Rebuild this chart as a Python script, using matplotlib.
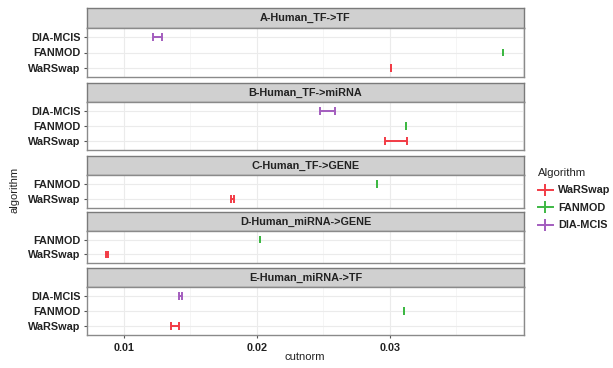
import matplotlib
matplotlib.use("Agg")
import matplotlib.pyplot as plt
from matplotlib.lines import Line2D
from matplotlib.ticker import MultipleLocator

plt.rcParams["font.family"] = ["Liberation Sans", "DejaVu Sans"]

# ---- data ----
panel_titles = ["A-Human_TF->TF", "B-Human_TF->miRNA", "C-Human_TF->GENE",
                "D-Human_miRNA->GENE", "E-Human_miRNA->TF"]

a_algs = ["DIA-MCIS", "FANMOD", "WaRSwap"]
a_low = [0.01215, 0.03852, 0.03010]
a_high = [0.01290, 0.03852, 0.03012]

b_algs = ["DIA-MCIS", "FANMOD", "WaRSwap"]
b_low = [0.02474, 0.03123, 0.02965]
b_high = [0.02589, 0.03124, 0.03130]

c_algs = ["FANMOD", "WaRSwap"]
c_low = [0.02905, 0.01802]
c_high = [0.02906, 0.01828]

d_algs = ["FANMOD", "WaRSwap"]
d_low = [0.02023, 0.00866]
d_high = [0.02024, 0.00882]

e_algs = ["DIA-MCIS", "FANMOD", "WaRSwap"]
e_low = [0.01411, 0.03108, 0.01353]
e_high = [0.01438, 0.03109, 0.01416]

legend_order = ["WaRSwap", "FANMOD", "DIA-MCIS"]
colors = {"WaRSwap": "#F23B45", "FANMOD": "#3DB843", "DIA-MCIS": "#A35DBE"}

panels = [
    (panel_titles[0], a_algs, a_low, a_high),
    (panel_titles[1], b_algs, b_low, b_high),
    (panel_titles[2], c_algs, c_low, c_high),
    (panel_titles[3], d_algs, d_low, d_high),
    (panel_titles[4], e_algs, e_low, e_high),
]

# ---- layout (pixels) ----
W, H = 613, 368
fig = plt.figure(figsize=(W / 100, H / 100), dpi=100)
fig.patch.set_facecolor("white")

x0, x1 = 87, 524
layout = [(8, 28, 77), (83, 102, 150), (156, 175, 208), (212, 231, 263), (268, 287, 335)]
xlim = (0.00722, 0.0401)
txt = "#222222"
fs = 7.8

def fx(px):
    return px / W

def fy(py):
    return 1 - py / H

for i, ((title, algs, lo, hi), (st, sb, pb)) in enumerate(zip(panels, layout)):
    # strip
    sax = fig.add_axes([fx(x0), fy(sb), fx(x1) - fx(x0), fy(st) - fy(sb)])
    sax.set_xticks([]); sax.set_yticks([])
    sax.set_facecolor("#D0D0D0")
    for s in sax.spines.values():
        s.set_color("#7a7a7a"); s.set_linewidth(1.0)
    sax.text(0.5, 0.5, title, ha="center", va="center", fontsize=fs,
             fontweight="bold", color=txt, transform=sax.transAxes)

    ax = fig.add_axes([fx(x0), fy(pb), fx(x1) - fx(x0), fy(sb) - fy(pb)])
    n = len(algs)
    ypos = list(range(n - 1, -1, -1))
    ax.set_xlim(*xlim)
    ax.set_ylim(-0.6, n - 1 + 0.6)
    ax.xaxis.set_major_locator(MultipleLocator(0.01))
    ax.xaxis.set_minor_locator(MultipleLocator(0.005))
    ax.grid(True, which="major", color="#EBEBEB", lw=0.8)
    ax.grid(True, which="minor", axis="x", color="#F2F2F2", lw=0.5)
    ax.set_axisbelow(True)
    for s in ax.spines.values():
        s.set_color("#8a8a8a"); s.set_linewidth(1.0)
    ax.set_yticks(ypos)
    ax.set_yticklabels(algs, fontsize=fs, fontweight="bold", color=txt)
    ax.tick_params(axis="y", length=2.5, width=0.8, color="#555555", pad=2)
    ax.tick_params(axis="x", which="minor", length=0)
    if i == len(panels) - 1:
        ax.set_xticks([0.01, 0.02, 0.03])
        ax.set_xticklabels(["0.01", "0.02", "0.03"], fontsize=fs,
                           fontweight="bold", color=txt)
        ax.tick_params(axis="x", which="major", length=2.5, width=0.8,
                       color="#555555", pad=3)
    else:
        ax.tick_params(axis="x", which="major", length=0, labelbottom=False)

    for alg, l, h, y in zip(algs, lo, hi, ypos):
        c = colors[alg]
        ax.hlines(y, l, h, color=c, lw=1.4)
        ax.vlines([l, h], y - 0.25, y + 0.25, color=c, lw=1.4)

fig.text(fx(15), fy(190), "algorithm", rotation=90, ha="center", va="center",
         fontsize=8, color=txt)
fig.text(fx(305), fy(357), "cutnorm", ha="center", va="center",
         fontsize=8, color=txt)

handles = [Line2D([0], [0], color=colors[a], lw=1.4, marker="|", markersize=8,
                  markeredgewidth=1.4) for a in legend_order]
leg = fig.legend(handles, legend_order, loc="upper left",
                 bbox_to_anchor=(fx(528), fy(158)), frameon=False,
                 title="Algorithm", fontsize=fs, title_fontsize=8.2,
                 handlelength=1.4, handletextpad=0.5, labelspacing=0.7,
                 alignment="left")
for t in leg.get_texts():
    t.set_fontweight("bold")
    t.set_color(txt)
leg.get_title().set_color(txt)

fig.savefig("out.png", dpi=100, facecolor="white")
